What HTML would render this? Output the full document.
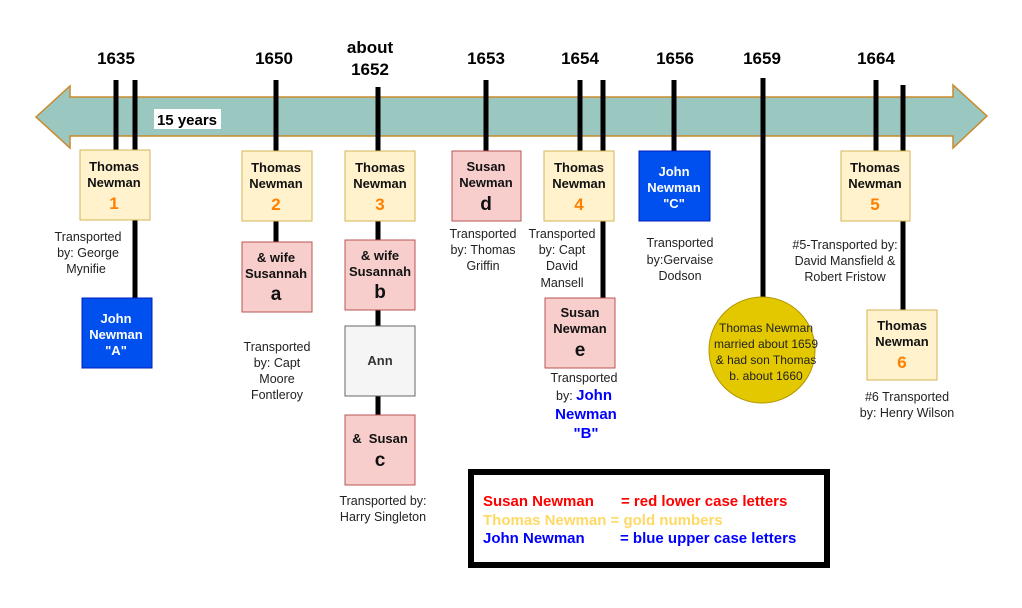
<!DOCTYPE html>
<html><head><meta charset="utf-8"><style>
body{margin:0;background:#fff}
svg text{font-family:"Liberation Sans",Arial,sans-serif}
.y{font-size:17px;font-weight:bold;fill:#000;text-anchor:middle}
.b{font-size:13px;font-weight:bold;text-anchor:middle;fill:#111}
.n{font-size:17px;font-weight:bold;text-anchor:middle;fill:#ff8000}
.l{font-size:19px;font-weight:bold;text-anchor:middle;fill:#111}
.t{font-size:12.5px;text-anchor:middle;fill:#222}
</style></head><body>
<svg width="1022" height="603" viewBox="0 0 1022 603" xmlns="http://www.w3.org/2000/svg">
<polygon points="36,117 70,86 70,97 953,97 953,85 987,116 953,148 953,136 70,136 70,148" fill="#9ac7bf" stroke="#c98a2b" stroke-width="1.5"/>
<rect x="154" y="109" width="67" height="20" fill="#fff"/>
<text x="187" y="125" class="y" style="font-size:15px">15 years</text>
<g stroke="#000" stroke-width="5">
<line x1="116" y1="80" x2="116" y2="150"/><line x1="135" y1="80" x2="135" y2="298"/>
<line x1="276" y1="80" x2="276" y2="242"/><line x1="378" y1="87" x2="378" y2="415"/>
<line x1="486" y1="80" x2="486" y2="151"/><line x1="580" y1="80" x2="580" y2="151"/>
<line x1="603" y1="80" x2="603" y2="298"/><line x1="674" y1="80" x2="674" y2="151"/>
<line x1="763" y1="78" x2="763" y2="297"/><line x1="876" y1="80" x2="876" y2="151"/>
<line x1="903" y1="85" x2="903" y2="310"/>
</g>
<g class="y"><text x="116" y="64" class="y">1635</text><text x="274" y="64" class="y">1650</text>
<text x="370" y="53" class="y">about</text><text x="370" y="75" class="y">1652</text>
<text x="486" y="64" class="y">1653</text><text x="580" y="64" class="y">1654</text>
<text x="675" y="64" class="y">1656</text><text x="762" y="64" class="y">1659</text><text x="876" y="64" class="y">1664</text></g>
<g fill="#fff2cc" stroke="#d6b656">
<rect x="80" y="150" width="70" height="70"/><rect x="242" y="151" width="70" height="70"/>
<rect x="345" y="151" width="70" height="70"/><rect x="544" y="151" width="70" height="70"/>
<rect x="841" y="151" width="69" height="70"/><rect x="867" y="310" width="70" height="70"/>
</g>
<g fill="#f8cecc" stroke="#b85450">
<rect x="242" y="242" width="70" height="70"/><rect x="345" y="240" width="70" height="70"/>
<rect x="345" y="415" width="70" height="70"/><rect x="452" y="151" width="69" height="70"/>
<rect x="545" y="298" width="70" height="70"/>
</g>
<rect x="345" y="326" width="70" height="70" fill="#f5f5f5" stroke="#666"/>
<g fill="#0050ef" stroke="#001dbc"><rect x="82" y="298" width="70" height="70"/><rect x="639" y="151" width="71" height="70"/></g>
<circle cx="762" cy="350" r="53" fill="#e3c800" stroke="#b09500"/>
<text x="114" y="171" class="b">Thomas</text><text x="114" y="187" class="b">Newman</text><text x="114" y="209" class="n">1</text>
<text x="276" y="172" class="b">Thomas</text><text x="276" y="188" class="b">Newman</text><text x="276" y="210" class="n">2</text>
<text x="380" y="172" class="b">Thomas</text><text x="380" y="188" class="b">Newman</text><text x="380" y="210" class="n">3</text>
<text x="579" y="172" class="b">Thomas</text><text x="579" y="188" class="b">Newman</text><text x="579" y="210" class="n">4</text>
<text x="875" y="172" class="b">Thomas</text><text x="875" y="188" class="b">Newman</text><text x="875" y="210" class="n">5</text>
<text x="902" y="330" class="b">Thomas</text><text x="902" y="346" class="b">Newman</text><text x="902" y="368" class="n">6</text>
<text x="486" y="171" class="b">Susan</text><text x="486" y="187" class="b">Newman</text><text x="486" y="210" class="l">d</text>
<text x="580" y="317" class="b">Susan</text><text x="580" y="333" class="b">Newman</text><text x="580" y="356" class="l">e</text>
<text x="276" y="262" class="b">&amp; wife</text><text x="276" y="278" class="b">Susannah</text><text x="276" y="300" class="l">a</text>
<text x="380" y="260" class="b">&amp; wife</text><text x="380" y="276" class="b">Susannah</text><text x="380" y="298" class="l">b</text>
<text x="380" y="365" class="b" style="fill:#333">Ann</text>
<text x="380" y="443" class="b" xml:space="preserve">&amp;  Susan</text><text x="380" y="466" class="l">c</text>
<text x="116" y="323" class="b" style="fill:#fff">John</text><text x="116" y="339" class="b" style="fill:#fff">Newman</text><text x="116" y="355" class="b" style="fill:#fff">"A"</text>
<text x="674" y="176" class="b" style="fill:#fff">John</text><text x="674" y="192" class="b" style="fill:#fff">Newman</text><text x="674" y="208" class="b" style="fill:#fff">"C"</text>
<text x="88" y="241" class="t">Transported</text><text x="88" y="257" class="t">by: George</text><text x="86" y="273" class="t">Mynifie</text>
<text x="277" y="351" class="t">Transported</text><text x="277" y="367" class="t">by: Capt</text><text x="277" y="383" class="t">Moore</text><text x="277" y="399" class="t">Fontleroy</text>
<text x="383" y="505" class="t">Transported by:</text><text x="383" y="521" class="t">Harry Singleton</text>
<text x="483" y="238" class="t">Transported</text><text x="483" y="254" class="t">by: Thomas</text><text x="483" y="270" class="t">Griffin</text>
<text x="562" y="238" class="t">Transported</text><text x="562" y="254" class="t">by: Capt</text><text x="562" y="270" class="t">David</text><text x="562" y="287" class="t">Mansell</text>
<text x="584" y="382" class="t">Transported</text>
<text x="584" y="400" class="t">by: <tspan style="fill:#0000ff;font-weight:bold;font-size:15px">John</tspan></text>
<text x="586" y="419" class="t" style="fill:#0000ff;font-weight:bold;font-size:15px">Newman</text>
<text x="586" y="438" class="t" style="fill:#0000ff;font-weight:bold;font-size:15px">"B"</text>
<text x="680" y="247" class="t">Transported</text><text x="680" y="264" class="t">by:Gervaise</text><text x="680" y="280" class="t">Dodson</text>
<text x="845" y="249" class="t">#5-Transported by:</text><text x="845" y="265" class="t">David Mansfield &amp;</text><text x="845" y="281" class="t">Robert Fristow</text>
<text x="907" y="401" class="t">#6 Transported</text><text x="907" y="417" class="t">by: Henry Wilson</text>
<text x="766" y="332" class="t" style="font-size:12px">Thomas Newman</text><text x="766" y="348" class="t" style="font-size:12px">married about 1659</text>
<text x="766" y="364" class="t" style="font-size:12px">&amp; had son Thomas</text><text x="766" y="380" class="t" style="font-size:12px">b. about 1660</text>
<rect x="471" y="472" width="356" height="93" fill="#fff" stroke="#000" stroke-width="6"/>
<g style="font-size:15px;font-weight:bold">
<text x="483" y="506" fill="#ff0000">Susan Newman</text><text x="621" y="506" fill="#ff0000">= red lower case letters</text>
<text x="483" y="525" fill="#ffd966">Thomas Newman = gold numbers</text>
<text x="483" y="543" fill="#0000ff">John Newman</text><text x="620" y="543" fill="#0000ff">= blue upper case letters</text>
</g>
</svg>
</body></html>
